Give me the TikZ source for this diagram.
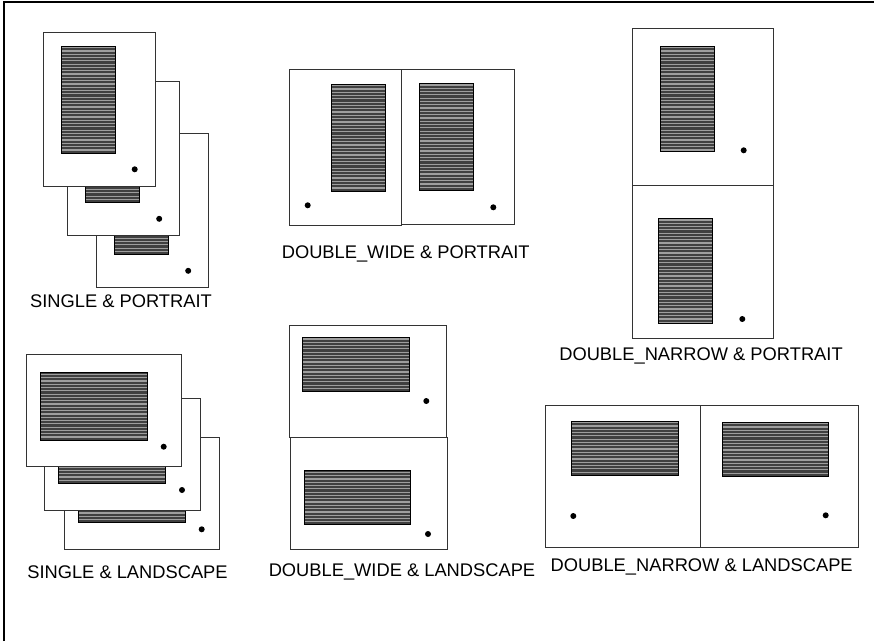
\documentclass[tikz,border=0pt]{standalone}
\usepackage{fontspec}
\usepackage{tikz}
\usetikzlibrary{positioning}
\newfontfamily\capfont{Liberation Sans}
% one hatched block, corners (x1,y1) and (x2,y2)
\newcommand{\Hatch}[4]{%
  \fill[black!75] (#1,#2) rectangle (#3,#4);
  \begin{scope}
    \clip (#1,#2) rectangle (#3,#4);
    \foreach \k in {0,...,40}
      \draw[black!38, line width=1.2pt] (#1,{#2+1.6+\k*3.3}) -- (#3,{#2+1.6+\k*3.3});
  \end{scope}
  \draw[black, line width=0.7pt] (#1,#2) rectangle (#3,#4);}
\newcommand{\Sheet}[4]{\draw[sheet] (#1,#2) rectangle (#3,#4);}
\newcommand{\Dot}[2]{\fill (#1,#2) circle (3);}
\newcommand{\PortraitSheet}{\Sheet{0}{0}{112}{154}\Hatch{18}{14}{72}{121.3}\Dot{91.7}{137.3}}
\newcommand{\LandscapeSheet}{\Sheet{0}{0}{155.7}{112}\Hatch{14.3}{18}{121.3}{85.3}\Dot{137.7}{92}}

\begin{document}
\begin{tikzpicture}[
  x=1pt, y=-1pt,
  sheet/.style={draw=black!80, fill=white, line width=0.7pt},
  caption/.style={font=\capfont\fontsize{18.3}{22}\selectfont, inner sep=0pt}
]
\useasboundingbox (0,0) rectangle (874,641);
\draw[line width=1.6pt] (4,641) -- (4,2) -- (874,2);

\foreach \dx/\dy in {53.5/101.5, 24.5/49.5, 0/0}{
  \begin{scope}[shift={(43+\dx,32+\dy)}] \PortraitSheet \end{scope}}
\node[caption] (sp) at (121,301) {SINGLE \& PORTRAIT};

\Sheet{289.3}{69}{401.3}{225.3}
\Sheet{401.3}{69.7}{514}{224.3}
\Hatch{331}{84}{385.7}{191}
\Hatch{419.3}{83.3}{473.7}{190.3}
\Dot{307.7}{205.3}
\Dot{493.3}{207.3}
\node[caption] (dwp) at (405.7,253.5) {DOUBLE\_WIDE \& PORTRAIT};

\Sheet{632.3}{28.7}{773.7}{185.7}
\Sheet{632.3}{185.7}{773.7}{338.3}
\Hatch{660}{46}{714}{151.7}
\Hatch{658}{218.3}{712.7}{323.3}
\Dot{743.7}{150.3}
\Dot{742.3}{319}
\node[caption] (dnp) at (701,356) {DOUBLE\_NARROW \& PORTRAIT};

\foreach \dx/\dy in {38/82.6, 18.3/43.3, 0/0}{
  \begin{scope}[shift={(26+\dx,354.7+\dy)}] \LandscapeSheet \end{scope}}
\node[caption] (sl) at (127.5,572) {SINGLE \& LANDSCAPE};

\Sheet{289.3}{325.7}{446}{437.7}
\Sheet{290.7}{437.7}{447.7}{549.5}
\Hatch{302.7}{337.3}{409.3}{391.7}
\Hatch{304.3}{470.7}{410.7}{524.7}
\Dot{426.3}{401}
\Dot{428}{534}
\node[caption] (dwl) at (402,572) {DOUBLE\_WIDE \& LANDSCAPE};

\Sheet{545.7}{405.7}{700.3}{547.3}
\Sheet{700.3}{405.7}{858.7}{547.3}
\Hatch{571}{421}{678.7}{475.7}
\Hatch{722.3}{422}{828.7}{476.7}
\Dot{573.3}{516}
\Dot{825.7}{515.3}
\node[caption] (dnl) at (701.7,567) {DOUBLE\_NARROW \& LANDSCAPE};
\end{tikzpicture}
\end{document}
